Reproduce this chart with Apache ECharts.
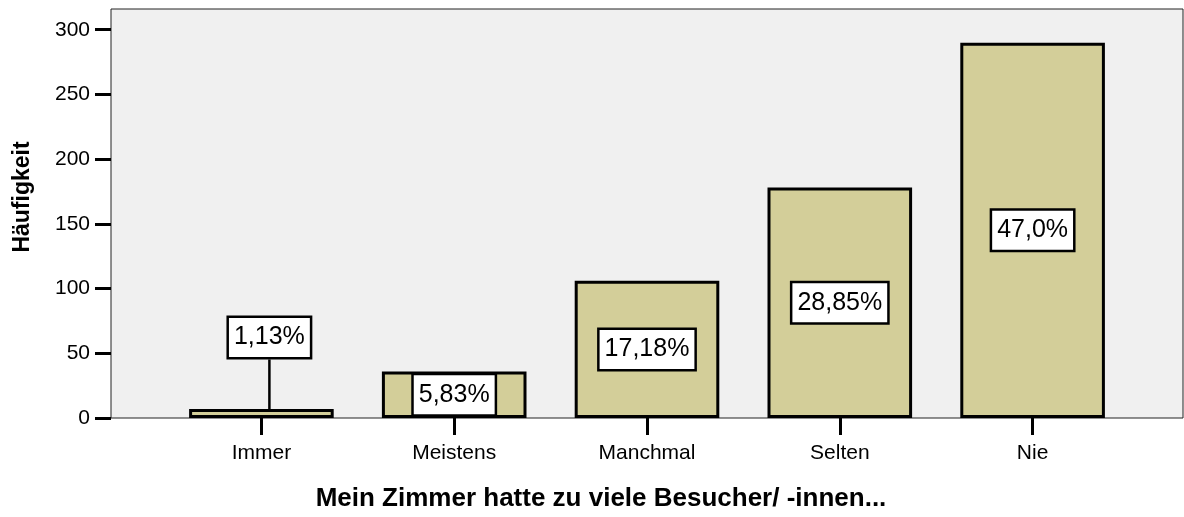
<!DOCTYPE html>
<html>
<head>
<meta charset="utf-8">
<script src="https://cdn.jsdelivr.net/npm/echarts@6/dist/echarts.min.js"></script>
<style>
  html, body { margin: 0; padding: 0; background: #fff; }
  #chart { width: 1184px; height: 517px; }
</style>
</head>
<body>
<div id="chart"></div>
<script>
// Answers to "Mein Zimmer hatte zu viele Besucher/ -innen..."
const categories = ['Immer', 'Meistens', 'Manchmal', 'Selten', 'Nie'];
const counts = [7, 36, 106, 178, 290];
const percentLabels = ['1,13%', '5,83%', '17,18%', '28,85%', '47,0%'];
const yTicks = [0, 50, 100, 150, 200, 250, 300];
const yMax = 316;
const xTitle = 'Mein Zimmer hatte zu viele Besucher/ -innen...';
const yTitle = 'Häufigkeit';

// bars shorter than this get their label as a callout above the bar
const calloutBelow = 30;

const FONT = '"Liberation Sans", Arial, Helvetica, sans-serif';
const chart = echarts.init(document.getElementById('chart'), null, { renderer: 'canvas' });

const option = {
  animation: false,
  backgroundColor: '#fff',
  grid: [
    // framed plot background carrying the count axis
    { left: 111, right: 1, top: 9, bottom: 99, show: true, backgroundColor: '#f0f0f0',
      borderColor: '#222', borderWidth: 1 },
    // inner band where the categories sit
    { left: 165, right: 55, top: 9, bottom: 99 }
  ],
  xAxis: [
    { gridIndex: 0, type: 'value', show: false, min: 0, max: 1 },
    {
      gridIndex: 1, type: 'category', data: categories,
      axisLine: { show: false },
      axisTick: { show: true, alignWithLabel: true, length: 17, lineStyle: { color: '#000', width: 3 } },
      axisLabel: { margin: 25, fontSize: 21, color: '#000', fontFamily: FONT },
      splitLine: { show: false }
    }
  ],
  yAxis: [
    {
      gridIndex: 0, type: 'value', min: 0, max: yMax, interval: 50,
      axisLine: { show: false },
      splitLine: { show: false },
      axisTick: { show: true, length: 16, customValues: yTicks, lineStyle: { color: '#000', width: 3 } },
      axisLabel: { customValues: yTicks, margin: 21, fontSize: 21, color: '#000', fontFamily: FONT }
    },
    { gridIndex: 1, type: 'value', min: 0, max: yMax, show: false }
  ],
  series: [{
    type: 'bar',
    xAxisIndex: 1,
    yAxisIndex: 1,
    data: counts.map(v => ({ value: v, labelLine: { show: v < calloutBelow } })),
    barWidth: '75%',
    itemStyle: { color: '#d3ce99', borderColor: '#000', borderWidth: 3 },
    label: {
      show: true,
      position: 'inside',
      formatter: p => percentLabels[p.dataIndex],
      fontSize: 25,
      fontFamily: FONT,
      color: '#000',
      backgroundColor: '#fff',
      borderColor: '#000',
      borderWidth: 2.5,
      padding: [6, 5, 6, 5],
      lineHeight: 27
    },
    labelLine: { lineStyle: { color: '#000', width: 2.5 } },
    labelLayout: function (p) {
      if (p.rect.height < p.labelRect.height) {
        return { dx: 8, dy: -76 };
      }
      return {};
    }
  }],
  graphic: [
    {
      type: 'text', x: 23, y: 197, rotation: Math.PI / 2,
      style: { text: yTitle, font: 'bold 23px ' + FONT, fill: '#000',
        align: 'center', verticalAlign: 'middle', textAlign: 'center', textVerticalAlign: 'middle' }
    },
    {
      type: 'text', x: 601, y: 499,
      style: { text: xTitle, font: 'bold 26px ' + FONT, fill: '#000',
        align: 'center', verticalAlign: 'middle', textAlign: 'center', textVerticalAlign: 'middle' }
    }
  ]
};

chart.setOption(option);
</script>
</body>
</html>
